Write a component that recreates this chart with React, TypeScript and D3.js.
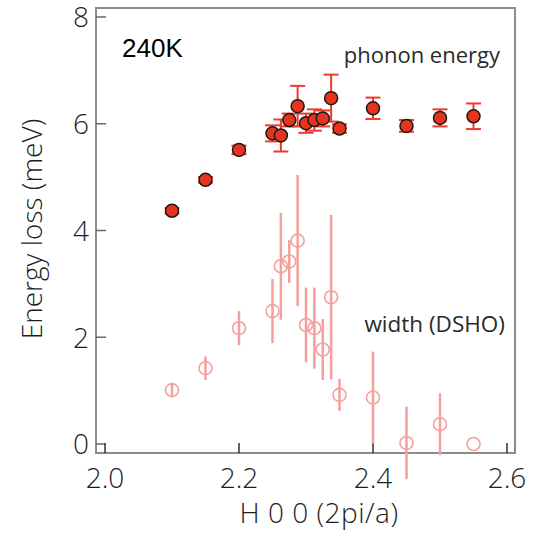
import React from "react";
import * as d3 from "d3";

const H = [2.1, 2.15, 2.2, 2.25, 2.2625, 2.275, 2.2875, 2.3, 2.3125, 2.325, 2.3375, 2.35, 2.4, 2.45, 2.5, 2.55];
const energy = [4.37, 4.95, 5.51, 5.82, 5.78, 6.07, 6.33, 6.01, 6.07, 6.1, 6.48, 5.91, 6.29, 5.96, 6.11, 6.14];
const energyErr = [0.05, 0.05, 0.08, 0.15, 0.3, 0.12, 0.38, 0.18, 0.2, 0.15, 0.44, 0.08, 0.2, 0.11, 0.16, 0.24];
const widthVals = [1.01, 1.42, 2.17, 2.49, 3.33, 3.42, 3.81, 2.23, 2.17, 1.77, 2.75, 0.92, 0.87, 0.02, 0.37, 0.0];
const widthErr = [0.12, 0.22, 0.32, 0.6, 1.0, 0.4, 1.23, 0.7, 0.76, 0.57, 1.54, 0.3, 0.86, 0.68, 0.58, 0];
const xTicks = [2.0, 2.2, 2.4, 2.6];
const yTicks = [0, 2, 4, 6, 8];

const W = 544;
const HT = 533;
const frame = { left: 96, right: 515, top: 8, bottom: 453 };

export default function App() {
  const x = d3.scaleLinear().domain([2.0, 2.6]).range([105, 507]);
  const y = d3.scaleLinear().domain([0, 8]).range([444, 17]);
  const font = "'Open Sans', 'DejaVu Sans', sans-serif";
  const txt = "#1e1e1e";
  const red = "#e8341f";
  const redBar = "#ee3a2c";
  const pink = "#f4a09c";
  const cap = 7.5;

  return (
    <svg width={W} height={HT} style={{ position: "absolute", left: 0, top: 0, background: "#fff" }}>
      <rect x={0} y={0} width={W} height={HT} fill="#fff" />
      <rect
        x={frame.left}
        y={frame.top}
        width={frame.right - frame.left}
        height={frame.bottom - frame.top}
        fill="none"
        stroke="#8c8c8c"
        strokeWidth={2}
      />
      {yTicks.map((t) => (
        <g key={"y" + t}>
          <line x1={frame.left} x2={frame.left + 10} y1={y(t)} y2={y(t)} stroke="#666" strokeWidth={1.5} />
          <text x={89} y={y(t)} dy="0.37em" textAnchor="end" fontFamily={font} fontWeight={300} fontSize={28} fill={txt}>
            {t}
          </text>
        </g>
      ))}
      {xTicks.map((t) => (
        <g key={"x" + t}>
          <line x1={x(t)} x2={x(t)} y1={frame.bottom} y2={frame.bottom - 10} stroke="#333" strokeWidth={1.5} />
          <text x={x(t)} y={488} textAnchor="middle" fontFamily={font} fontWeight={300} fontSize={28} fill={txt}>
            {d3.format(".1f")(t)}
          </text>
        </g>
      ))}
      <text
        transform={`translate(42,229) rotate(-90)`}
        textAnchor="middle"
        fontFamily={font}
        fontWeight={300}
        fontSize={28}
        fill={txt}
      >
        Energy loss (meV)
      </text>
      <text x={319} y={523} textAnchor="middle" fontFamily={font} fontWeight={300} fontSize={28} letterSpacing={0.5} fill={txt}>
        H 0 0 (2pi/a)
      </text>
      <text x={122} y={57} fontFamily="'Liberation Sans', Arial, sans-serif" fontSize={26} fill="#000">
        240K
      </text>
      <text x={500} y={63} textAnchor="end" fontFamily={font} fontSize={22} fill="#2a2a2a">
        phonon energy
      </text>
      <text x={505} y={332} textAnchor="end" fontFamily={font} fontSize={22.5} fill="#2a2a2a">
        width (DSHO)
      </text>

      {/* width (DSHO) series */}
      {H.map((h, i) =>
        widthErr[i] > 0 ? (
          <line
            key={"we" + i}
            x1={x(h)}
            x2={x(h)}
            y1={y(widthVals[i] + widthErr[i])}
            y2={y(widthVals[i] - widthErr[i])}
            stroke={pink}
            strokeWidth={2.5}
          />
        ) : null
      )}
      {H.map((h, i) => (
        <circle key={"wc" + i} cx={x(h)} cy={y(widthVals[i])} r={6.5} fill="none" stroke={pink} strokeWidth={1.6} />
      ))}

      {/* phonon energy series */}
      {H.map((h, i) => {
        const cx = x(h);
        const y1 = y(energy[i] + energyErr[i]);
        const y2 = y(energy[i] - energyErr[i]);
        return (
          <g key={"ee" + i} stroke={redBar} strokeWidth={2}>
            <line x1={cx} x2={cx} y1={y1} y2={y2} />
            <line x1={cx - cap} x2={cx + cap} y1={y1} y2={y1} />
            <line x1={cx - cap} x2={cx + cap} y1={y2} y2={y2} />
          </g>
        );
      })}
      {H.map((h, i) => (
        <circle key={"ec" + i} cx={x(h)} cy={y(energy[i])} r={6.5} fill={red} stroke="#1a1a1a" strokeWidth={1.5} />
      ))}
    </svg>
  );
}
